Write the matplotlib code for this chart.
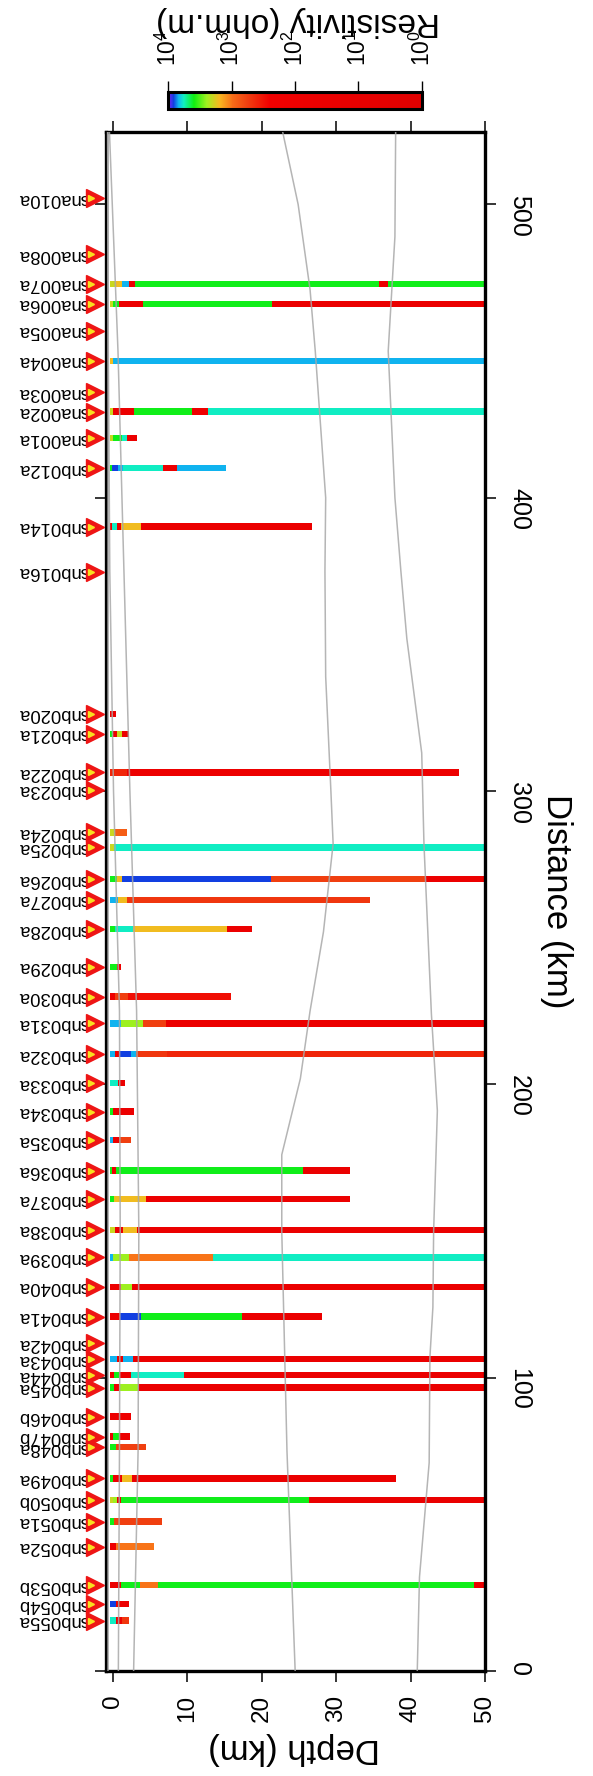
import numpy as np
import matplotlib
matplotlib.use("Agg")
import matplotlib.pyplot as plt
import matplotlib.cm as cm
from matplotlib.colors import LinearSegmentedColormap, LogNorm

plt.rcParams['font.family'] = ['Liberation Sans', 'DejaVu Sans']
plt.rcParams['mathtext.fontset'] = 'custom'
plt.rcParams['mathtext.rm'] = 'Liberation Sans'
plt.rcParams['mathtext.it'] = 'Liberation Sans:italic'

# stations along the profile (km)
station_names = ['snb055a', 'snb054b', 'snb053b', 'snb052a', 'snb051a', 'snb050b', 'snb049a',
                 'snb048a', 'snb047b', 'snb046b', 'snb045a', 'snb044a', 'snb043a', 'snb042a',
                 'snb041a', 'snb040a', 'snb039a', 'snb038a', 'snb037a', 'snb036a', 'snb035a',
                 'snb034a', 'snb033a', 'snb032a', 'snb031a', 'snb030a', 'snb029a', 'snb028a',
                 'snb027a', 'snb026a', 'snb025a', 'snb024a', 'snb023a', 'snb022a', 'snb021a',
                 'snb020a', 'snb016a', 'snb014a', 'snb012a', 'sna001a', 'sna002a', 'sna003a',
                 'sna004a', 'sna005a', 'sna006a', 'sna007a', 'sna008a', 'sna010a']
station_dist = [17.2, 22.8, 29.3, 42.4, 50.9, 58.3, 65.7, 76.3, 79.9, 86.7,
                96.6, 100.9, 106.3, 111.7, 120.8, 131.0, 141.0, 150.4, 160.9, 170.6,
                181.0, 190.7, 200.4, 210.3, 220.8, 229.9, 240.1, 252.9, 262.9, 270.0,
                280.8, 285.9, 300.4, 306.4, 319.5, 326.3, 374.8, 390.2, 410.1, 420.3,
                429.4, 435.9, 446.7, 457.0, 466.1, 472.9, 483.1, 502.1]

# 1D models: layer bottom depths (km) and resistivities (ohm.m)
layer_bottom = [
    [0.4, 1.2, 2.24],
    [0.4, 2.24],
    [1.12, 3.67, 6.13, 48.5, 50],
    [0.4, 5.6],
    [0.18, 6.6],
    [0.09, 0.63, 1.12, 26.3, 50],
    [0.09, 1.3, 2.64, 38.1],
    [0.45, 4.43],
    [0.09, 0.9, 2.33],
    [0.98, 2.4],
    [0.18, 0.9, 3.36, 50],
    [0.18, 0.9, 2.46, 9.57, 50],
    [0.63, 1.34, 2.77, 50],
    [],
    [0.98, 3.8, 17.4, 28.05],
    [1.12, 2.55, 50],
    [0.09, 2.24, 13.4, 50],
    [0.31, 1.34, 3.2, 50],
    [0.18, 4.47, 31.9],
    [-0.05, 0.4, 25.5, 31.9],
    [0.09, 0.9, 2.4],
    [0.09, 2.86],
    [0.76, 1.66],
    [0.31, 0.9, 2.46, 3.13, 7.25, 50],
    [1.07, 4.0, 7.16, 50],
    [0.31, 2.1, 15.9],
    [0.54, 1.12],
    [0.31, 2.68, 15.4, 18.7],
    [0.76, 1.88, 34.6],
    [0.54, 1.2, 21.2, 41.9, 50],
    [0.18, 50],
    [0.31, 1.88],
    [],
    [1.9, 46.5],
    [0.09, 0.63, 1.2, 2.2],
    [0.4],
    [],
    [-0.13, 0.63, 1.12, 3.8, 26.7],
    [-0.05, 0.76, 1.43, 6.7, 8.6, 15.2],
    [0.09, 1.2, 1.9, 3.2],
    [0.09, 2.86, 10.6, 12.8, 50],
    [],
    [0.0, 50],
    [],
    [0.09, 0.9, 4.03, 21.4, 50],
    [0.31, 1.2, 2.24, 3.0, 35.75, 37.0, 50],
    [],
    [],
]
layer_rho = [
    [5800, 80, 500],
    [8300, 60],
    [50, 4000, 1000, 4000, 40],
    [100, 1000],
    [4000, 560],
    [2000, 2500, 60, 4000, 30],
    [4000, 70, 1600, 40],
    [4000, 560],
    [80, 4000, 60],
    [60, 150],
    [4000, 80, 2500, 50],
    [90, 4000, 70, 5800, 40],
    [6900, 80, 6900, 50],
    [],
    [70, 8300, 4000, 50],
    [60, 2500, 40],
    [6900, 2500, 1000, 5800],
    [2000, 70, 1600, 50],
    [4000, 1600, 60],
    [4000, 100, 4000, 50],
    [6900, 80, 560],
    [4000, 70],
    [5800, 60],
    [6900, 90, 8300, 6900, 500, 400],
    [6900, 2500, 560, 60],
    [80, 560, 300],
    [4000, 80],
    [4000, 5800, 1600, 60],
    [6900, 1600, 500],
    [4000, 1600, 8300, 560, 60],
    [2000, 5800],
    [2000, 800],
    [],
    [400, 100],
    [4000, 80, 2000, 60],
    [70],
    [],
    [80, 5800, 70, 1600, 50],
    [4000, 8300, 6900, 5800, 60, 6900],
    [2000, 4000, 5800, 70],
    [2000, 70, 4000, 80, 5800],
    [],
    [1600, 6900],
    [],
    [2000, 4000, 70, 4000, 50],
    [2000, 1600, 6900, 80, 4000, 60, 4000],
    [],
    [],
]
surface_depth = -0.4

# interfaces (distance km, depth km)
iface_dist_a = [0, 75, 150, 176, 202, 225, 252, 282, 300, 339, 375, 400, 450, 471, 500, 525]
iface_depth_a = [24.5, 23.4, 22.7, 22.7, 25.2, 26.5, 28.3, 29.6, 29.3, 28.6, 28.5, 28.6, 27.2, 26.5, 24.9, 22.8]
iface_dist_b = [0, 32, 71, 107, 124, 150, 191, 224, 282, 313, 352, 375, 400, 450, 489, 525]
iface_depth_b = [40.9, 41.2, 42.5, 42.6, 43.0, 43.1, 43.6, 42.8, 41.8, 41.5, 39.5, 38.7, 37.9, 37.0, 37.9, 38.0]
iface_dist_c = [0, 75, 150, 225, 300, 375, 450, 525]
iface_depth_c = [2.8, 3.4, 3.5, 3.2, 2.3, 1.5, 0.7, -0.45]
iface_dist_d = [0, 75, 150, 225, 300, 375, 450, 525]
iface_depth_d = [0.75, 0.9, 1.0, 0.9, 0.1, -0.4, -0.6, -0.7]
iface_dist_e = [0, 525]
iface_depth_e = [-0.7, -0.7]

# colour scale on log10(rho), 0..4
cpt = [(0.0, '#e00000'), (2.4, '#f00000'), (2.75, '#f04010'), (3.0, '#f87018'),
       (3.2, '#f8b820'), (3.4, '#a0f020'), (3.6, '#10ee10'), (3.76, '#10f0c0'),
       (3.84, '#10b8f0'), (3.92, '#1040e0'), (4.0, '#8020ff')]
cmap = LinearSegmentedColormap.from_list('res', [(v / 4.0, c) for v, c in cpt])
norm = LogNorm(vmin=1, vmax=1e4)

fig = plt.figure(figsize=(5.93, 17.76), dpi=100)
ax = fig.add_axes([105.7 / 593, 105 / 1776, 379.3 / 593, 1539 / 1776])

for d, bot, rho in zip(station_dist, layer_bottom, layer_rho):
    if len(bot) == 0:
        continue
    bot = np.array(bot)
    top = np.concatenate([[surface_depth], bot[:-1]])
    ax.barh(np.full(len(bot), d), bot - top, left=top, height=2.2,
            color=cmap(norm(np.array(rho, dtype=float))), linewidth=0, zorder=2)

for xs, ys in [(iface_depth_a, iface_dist_a), (iface_depth_b, iface_dist_b),
               (iface_depth_c, iface_dist_c), (iface_depth_d, iface_dist_d),
               (iface_depth_e, iface_dist_e)]:
    ax.plot(xs, ys, color='#a8a8a8', lw=1.1, alpha=0.85, zorder=3)

# station markers and names
ax.plot(np.full(len(station_dist), -2.45), station_dist, ls='none', marker='>', ms=13,
        color='#ee1515', clip_on=False, zorder=6)
ax.plot(np.full(len(station_dist), -2.9), station_dist, ls='none', marker='>', ms=4.5,
        color='#f8e020', clip_on=False, zorder=7)
for name, d in zip(station_names, station_dist):
    ax.text(-3.1, d, name, rotation=180, ha='right', va='center', fontsize=13.3,
            clip_on=False, zorder=5)

ax.set_xlim(-0.95, 50)
ax.set_ylim(0, 524.7)
ax.set_xticks([0, 10, 20, 30, 40, 50])
ax.set_yticks([0, 100, 200, 300, 400, 500])
ax.tick_params(axis='x', which='both', direction='out', top=True, bottom=True,
               labeltop=False, labelbottom=True, labelrotation=90,
               length=8, width=1.1, pad=9, labelsize=17.5)
ax.tick_params(axis='y', which='both', direction='out', left=True, right=True,
               labelleft=False, labelright=True, labelrotation=-90,
               length=8, width=1.1, pad=8, labelsize=18)
for sp in ax.spines.values():
    sp.set_linewidth(2.4)
ax.set_zorder(1)

fig.text(294 / 593, 1 - 1748 / 1776, 'Depth (km)', rotation=180, ha='center', va='center', fontsize=25)
fig.text(557 / 593, 1 - 901 / 1776, 'Distance (km)', rotation=-90, ha='center', va='center', fontsize=25)

# colour bar
cax = fig.add_axes([168 / 593, 1 - 109 / 1776, 254 / 593, 16.5 / 1776])
sm = cm.ScalarMappable(norm=norm, cmap=cmap)
cbar = fig.colorbar(sm, cax=cax, orientation='horizontal')
cax.invert_xaxis()
cbar.set_ticks([1, 10, 100, 1000, 10000])
cbar.set_ticklabels(['$10^{0}$', '$10^{1}$', '$10^{2}$', '$10^{3}$', '$10^{4}$'])
cbar.minorticks_on()
cax.xaxis.set_ticks_position('top')
cax.tick_params(axis='x', which='major', length=8, width=1.0, labelrotation=90, labelsize=16.5, pad=11)
cax.tick_params(axis='x', which='minor', length=4, width=0.8)
cbar.outline.set_linewidth(2.2)
fig.text(298 / 593, 1 - 22 / 1776, 'Resistivity (ohm.m)', rotation=180, ha='center', va='center', fontsize=24)

fig.savefig('out.png', dpi=100)
